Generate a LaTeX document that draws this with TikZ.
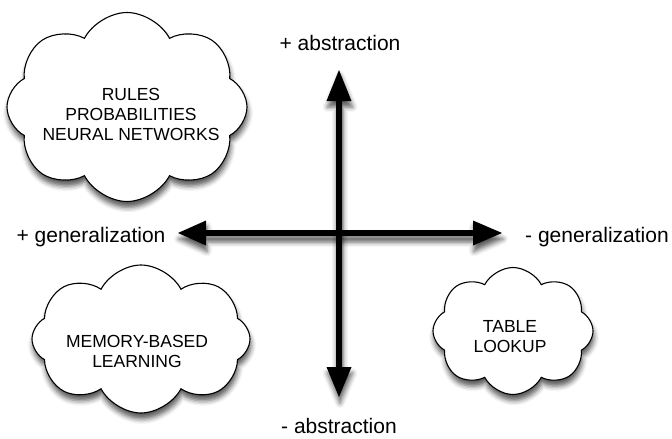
\documentclass[tikz,border=0pt]{standalone}
\usepackage{fontspec}
\setmainfont{Liberation Sans}
\usetikzlibrary{shapes.symbols,shadows.blur}

\begin{document}
\begin{tikzpicture}[x=1pt,y=-1pt,
  softshadow/.style={blur shadow={shadow xshift=1pt, shadow yshift=-6pt,
      shadow blur radius=5pt, shadow opacity=65}},
  cloudbox/.style={cloud, cloud puffs=8, cloud puff arc=125, cloud ignores aspect,
      draw=black, line width=1.1pt, fill=white, inner sep=0pt, softshadow},
  cloudtext/.style={font=\fontsize{17.5}{20}\selectfont, align=center, inner sep=0pt},
  axislabel/.style={font=\fontsize{21}{24}\selectfont, inner sep=0pt, anchor=base},
  axisarrow/.style={fill=black, softshadow}]
\useasboundingbox (0,0) rectangle (672,439);

% the three clouds
\node[cloudbox, minimum width=240pt, minimum height=189pt] (tl) at (127,107) {};
\node[cloudbox, minimum width=218pt, minimum height=148pt] (bl) at (141,339) {};
\node[cloudbox, minimum width=160pt, minimum height=127pt] (br) at (513,331) {};

\node[cloudtext] (tltext) at (131,114) {RULES\\PROBABILITIES\\NEURAL NETWORKS};
\node[cloudtext] (bltext) at (137,351) {MEMORY-BASED\\LEARNING};
\node[cloudtext] (brtext) at (510,337) {TABLE\\LOOKUP};

% arrow tips of the two axes
\coordinate (gleft) at (178,233);
\coordinate (gright) at (502,233);
\coordinate (atop) at (339,70);
\coordinate (abot) at (339,397);

% horizontal axis
\fill[axisarrow] (gleft) -- ([shift={(28pt,12.5pt)}]gleft) -- ([shift={(28pt,3pt)}]gleft)
  -- ([shift={(-29pt,3pt)}]gright) -- ([shift={(-29pt,12.5pt)}]gright) -- (gright)
  -- ([shift={(-29pt,-12.5pt)}]gright) -- ([shift={(-29pt,-3pt)}]gright)
  -- ([shift={(28pt,-3pt)}]gleft) -- ([shift={(28pt,-12.5pt)}]gleft) -- cycle;

% vertical axis
\fill[axisarrow] (atop) -- ([shift={(12.5pt,-31pt)}]atop) -- ([shift={(3pt,-31pt)}]atop)
  -- ([shift={(3pt,30pt)}]abot) -- ([shift={(12.5pt,30pt)}]abot) -- (abot)
  -- ([shift={(-12.5pt,30pt)}]abot) -- ([shift={(-3pt,30pt)}]abot)
  -- ([shift={(-3pt,-31pt)}]atop) -- ([shift={(-12.5pt,-31pt)}]atop) -- cycle;

% axis labels
\node[axislabel] (pabs) at (340,50) {+ abstraction};
\node[axislabel] (mabs) at (339,433) {- abstraction};
\node[axislabel] (pgen) at (91,242) {+ generalization};
\node[axislabel] (mgen) at (597,242) {- generalization};
\end{tikzpicture}
\end{document}
